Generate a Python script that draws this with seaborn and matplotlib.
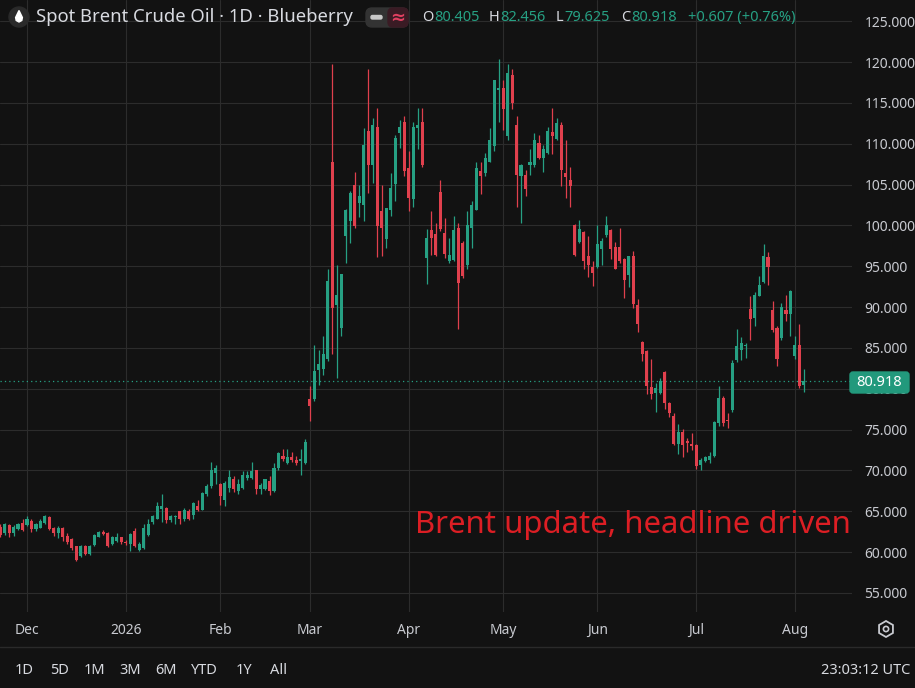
import numpy as np
import pandas as pd
import matplotlib
matplotlib.use("Agg")
import matplotlib.pyplot as plt
import seaborn as sns
from matplotlib.patches import FancyBboxPatch, Circle, RegularPolygon, Polygon

# ---------------- data ----------------
opens = [63.1, 62.4, 63.3, 62.4, 62.8, 63.6, 63.3, 63.8, 62.8, 63.0,
         63.6, 64.3, 63.0, 62.4, 62.9, 62.0, 61.6, 60.7, 59.5, 60.8,
         59.8, 60.9, 61.9, 62.5, 62.3, 61.0, 61.4, 61.8, 61.3, 61.0,
         62.6, 60.3, 60.5, 62.1, 63.7, 64.1, 65.3, 65.4, 63.9, 64.3,
         65.0, 64.0, 65.0, 64.5, 65.6,
         65.2, 67.1, 68.1, 69.7, 68.3, 66.4, 67.9, 68.9, 67.5, 67.9,
         69.1, 69.1, 70.0, 67.7, 67.7, 68.7, 67.5, 70.3, 71.8, 70.9,
         71.7, 71.3, 71.2, 70.9,
         78.7, 78.8, 82.3, 82.4, 83.6, 107.8, 90.3, 87.5, 98.7, 100.5,
         104.9, 102.7, 102.5, 111.6, 107.4, 112.1, 101.8, 98.3, 101.9, 105.1,
         111.3, 112.7,
         107.0, 103.2, 111.9, 112.7, 96.0, 99.4, 98.9, 104.1, 99.1, 95.7,
         95.8, 99.7, 97.9, 95.2, 99.7, 101.9, 106.7, 106.4, 107.8, 109.7,
         116.6,
         116.8, 110.9, 118.4, 112.3, 106.1, 106.2, 107.4, 107.4, 110.1, 108.2,
         108.9, 111.4, 110.6, 112.3, 106.4, 105.6, 100.1, 98.0, 99.2, 96.3,
         94.9,
         94.9, 97.1, 98.8, 99.4, 97.3, 97.3, 95.9, 93.9, 96.3, 90.2,
         85.7, 84.6, 80.2, 79.5, 79.5, 82.1, 78.3, 76.7, 73.3, 74.7,
         73.6, 73.2,
         73.1, 70.7, 71.1, 71.3, 71.8, 75.8, 78.9, 76.1, 77.4, 83.5,
         84.8, 85.2, 89.8, 88.7, 91.3, 93.1, 96.1, 89.6, 87.4, 86.2,
         89.6, 89.2,
         84.0, 85.4, 80.405]

highs = [63.4, 63.6, 63.5, 63.3, 63.6, 64.0, 64.4, 64.0, 63.6, 64.1,
         64.5, 64.4, 63.1, 63.2, 63.1, 62.3, 61.7, 60.8, 60.9, 60.9,
         60.9, 62.2, 62.6, 62.7, 62.5, 62.0, 62.3, 61.9, 61.5, 62.4,
         62.9, 61.2, 63.4, 64.1, 64.5, 66.1, 67.1, 65.5, 64.6, 64.6,
         65.0, 65.4, 65.3, 66.2, 66.4,
         67.4, 68.3, 71.0, 70.7, 68.5, 68.7, 70.1, 69.3, 68.9, 69.9,
         69.9, 71.0, 70.1, 68.5, 69.0, 69.3, 70.9, 72.2, 72.6, 72.6,
         72.2, 71.8, 72.6, 73.8,
         80.3, 85.4, 84.8, 86.4, 94.6, 119.7, 95.2, 94.0, 102.0, 104.2,
         106.5, 105.0, 111.9, 119.2, 113.1, 114.4, 105.0, 102.1, 106.4, 111.1,
         112.9, 113.4,
         109.1, 112.7, 114.4, 114.4, 99.5, 101.7, 100.3, 105.6, 100.9, 98.5,
         101.1, 100.3, 98.1, 101.8, 103.0, 107.8, 107.8, 108.9, 111.9, 117.8,
         120.4,
         117.8, 119.8, 119.1, 113.4, 107.5, 106.8, 109.3, 111.3, 111.1, 109.8,
         112.1, 114.4, 113.2, 112.7, 110.4, 107.2, 100.2, 100.7, 99.3, 98.7,
         95.6,
         100.1, 98.5, 101.1, 99.5, 98.0, 99.7, 96.0, 96.3, 96.9, 91.0,
         85.8, 84.7, 83.6, 80.7, 81.3, 82.2, 78.4, 77.0, 75.7, 75.1,
         74.0, 74.6,
         73.2, 71.5, 71.8, 72.3, 76.0, 80.4, 79.1, 77.0, 83.5, 87.3,
         86.3, 85.6, 91.3, 91.9, 93.8, 97.7, 96.7, 90.8, 87.7, 90.5,
         91.5, 92.1,
         86.4, 87.9, 82.456]

lows = [61.8, 62.1, 61.8, 62.0, 62.7, 62.6, 63.2, 62.5, 62.6, 62.9,
        63.5, 62.7, 62.0, 61.7, 61.4, 61.0, 60.3, 58.9, 59.4, 59.7,
        59.6, 60.8, 61.8, 62.1, 60.6, 60.9, 61.3, 61.0, 60.9, 60.1,
        60.6, 60.1, 60.4, 62.0, 63.5, 64.0, 63.7, 63.6, 63.7, 63.5,
        63.5, 63.8, 63.9, 64.1, 65.0,
        65.1, 66.9, 67.9, 68.3, 65.8, 65.6, 67.4, 67.4, 67.1, 67.7,
        68.8, 68.9, 67.1, 67.1, 67.6, 67.0, 67.4, 70.1, 71.2, 70.8,
        71.0, 70.7, 69.5, 70.8,
        76.0, 78.5, 80.5, 81.7, 83.4, 84.2, 81.3, 86.4, 95.4, 97.9,
        99.7, 101.0, 100.5, 104.0, 105.2, 96.1, 96.2, 97.2, 101.1, 103.0,
        109.5, 106.0,
        101.7, 102.2, 109.4, 107.2, 92.8, 96.4, 96.2, 99.3, 96.0, 95.4,
        95.6, 87.3, 93.6, 94.6, 97.2, 101.9, 103.8, 106.0, 107.8, 109.1,
        112.7,
        111.7, 110.5, 114.2, 102.3, 100.3, 103.6, 106.2, 107.2, 108.1, 106.5,
        108.7, 108.7, 110.5, 104.8, 103.4, 102.3, 96.2, 97.9, 94.7, 93.7,
        92.6,
        94.8, 95.2, 98.6, 95.9, 94.6, 95.4, 91.1, 92.4, 89.9, 87.0,
        83.4, 79.3, 78.7, 77.2, 79.3, 77.5, 76.6, 73.1, 72.0, 71.7,
        72.3, 72.5,
        70.2, 70.0, 71.0, 70.9, 71.7, 75.4, 75.4, 75.2, 77.1, 83.3,
        83.5, 83.8, 86.0, 87.7, 91.3, 92.9, 92.7, 86.9, 82.8, 86.0,
        88.3, 86.5,
        83.6, 80.1, 79.625]

closes = [62.1, 63.4, 62.4, 63.1, 63.5, 62.7, 64.0, 62.8, 63.4, 63.8,
          64.4, 62.8, 62.3, 63.0, 61.9, 61.3, 60.5, 59.1, 60.8, 59.8,
          60.8, 62.1, 62.5, 62.2, 60.8, 61.8, 61.9, 61.2, 61.1, 62.2,
          60.8, 61.0, 62.9, 63.4, 64.4, 65.6, 65.7, 63.9, 64.4, 64.4,
          64.0, 65.2, 64.1, 66.0, 65.1,
          67.2, 68.1, 70.1, 70.3, 66.9, 68.5, 69.2, 67.7, 68.3, 69.5,
          69.5, 69.9, 67.7, 68.2, 68.9, 67.5, 70.3, 72.1, 71.4, 71.6,
          71.3, 70.9, 71.4, 73.5,
          77.9, 82.2, 83.0, 84.2, 93.2, 89.9, 91.5, 94.0, 101.9, 104.0,
          99.9, 103.6, 109.8, 107.4, 112.3, 99.9, 99.7, 102.1, 104.6, 110.7,
          112.1, 106.6,
          103.4, 112.1, 112.3, 107.4, 98.5, 98.5, 96.4, 99.5, 96.5, 96.4,
          99.4, 92.9, 93.8, 100.0, 102.5, 107.0, 106.1, 108.3, 110.4, 117.8,
          116.8,
          114.2, 118.7, 115.0, 106.2, 107.4, 104.4, 107.8, 110.5, 108.3, 109.3,
          111.6, 111.0, 112.5, 106.8, 105.9, 104.8, 96.4, 99.5, 95.6, 95.1,
          94.2,
          97.7, 98.1, 100.0, 97.1, 94.7, 95.6, 93.3, 96.2, 90.4, 87.9,
          84.3, 80.3, 79.3, 80.1, 81.0, 78.2, 77.0, 73.3, 74.7, 73.1,
          73.4, 73.0,
          70.6, 71.3, 71.7, 71.8, 75.9, 78.9, 75.8, 76.0, 83.1, 85.2,
          85.6, 85.3, 88.6, 91.5, 92.7, 96.3, 94.9, 87.2, 83.7, 90.0,
          89.2, 92.0,
          85.4, 80.3, 80.918]

holidays = ["2025-12-25", "2026-01-01", "2026-04-03", "2026-07-03"]
price_ticks = [55, 60, 65, 70, 75, 80, 85, 90, 95, 100, 105, 110, 115, 120, 125]
last_price = 80.918
title_text = "Spot Brent Crude Oil \u00b7 1D \u00b7 Blueberry"
ohlc_labels = ["O", "H", "L", "C"]
ohlc_values = ["80.405", "82.456", "79.625", "80.918"]
change_text = "+0.607 (+0.76%)"
overlay_text = "Brent update, headline driven"
range_buttons = ["1D", "5D", "1M", "3M", "6M", "YTD", "1Y", "All"]
clock_text = "23:03:12 UTC"

dates = pd.bdate_range("2025-11-21", "2026-08-05")
dates = dates[~dates.isin(pd.to_datetime(holidays))]
df = pd.DataFrame({"date": dates, "open": opens, "high": highs,
                   "low": lows, "close": closes})
df["i"] = np.arange(len(df))
df["up"] = df["close"] >= df["open"]

# ---------------- style ----------------
BG = "#121212"
GRID = "#2c2c2c"
TXT = "#c8cad0"
UP = "#26a083"
DN = "#e0404d"
sns.set_theme(style="dark", rc={"axes.facecolor": BG, "figure.facecolor": BG})
plt.rcParams["font.family"] = ["Noto Sans", "DejaVu Sans"]

W, H = 915, 688
fig = plt.figure(figsize=(W / 100, H / 100), dpi=100)
fig.patch.set_facecolor(BG)
plot_right, plot_bottom = 852, 612
ax = fig.add_axes([0, 1 - plot_bottom / H, plot_right / W, plot_bottom / H])
ax.set_facecolor(BG)

colors = np.where(df["up"], UP, DN)
ax.vlines(df["i"], df["low"], df["high"], colors=colors, linewidth=0.9, zorder=3)
body_bottom = np.minimum(df["open"], df["close"])
body_h = np.maximum(np.abs(df["close"] - df["open"]), 0.12)
ax.bar(df["i"], body_h, bottom=body_bottom, width=0.68, color=colors,
       linewidth=0, zorder=4)

px_per_bar = 4.491
x0 = 6 - 27 / px_per_bar
ax.set_xlim(x0, x0 + plot_right / px_per_bar)
px_per_unit = (593 - 62) / 65
ax.set_ylim(120 - (plot_bottom - 62) / px_per_unit, 120 + 62 / px_per_unit)

per = df["date"].dt.to_period("M")
firsts = df.groupby(per)["i"].first()
firsts = firsts[firsts > 0]
tick_pos = list(firsts.values)
tick_lab = [str(p.year) if p.month == 1 else p.strftime("%b") for p in firsts.index]
ax.set_xticks(tick_pos)
ax.set_xticklabels(tick_lab)
for t in ax.get_xticklabels():
    if t.get_text().isdigit():
        t.set_fontweight("bold")
ax.tick_params(axis="x", length=0, pad=8, labelsize=10, labelcolor=TXT)

ax.set_yticks(price_ticks)
ax.set_yticklabels([f"{v:.3f}" for v in price_ticks])
ax.yaxis.tick_right()
ax.tick_params(axis="y", length=0, pad=9, labelsize=10, labelcolor=TXT)

ax.grid(True, color=GRID, linewidth=0.8, zorder=0)
ax.set_axisbelow(True)
sns.despine(ax=ax, left=True, bottom=True, right=True, top=True)

ax.axhline(last_price, color=UP, linestyle=(0, (1, 2.5)), linewidth=0.9, zorder=2)

# ---------------- overlay (pixel coords) ----------------
ov = fig.add_axes([0, 0, 1, 1], zorder=10)
ov.set_xlim(0, W)
ov.set_ylim(H, 0)
ov.axis("off")
ov.patch.set_alpha(0)
renderer = fig.canvas.get_renderer()


def px_width(t):
    bb = t.get_window_extent(renderer=renderer)
    return bb.width


ov.add_patch(Circle((19, 17), 10, color="#2a2a2a", zorder=1))
drop = Polygon([(19, 10.5), (15.6, 17.5), (16.2, 20.5), (19, 22), (21.8, 20.5), (22.4, 17.5)],
               closed=True, color="white", zorder=2)
ov.add_patch(drop)
ov.text(36, 17.5, title_text, color="#d8dae0", fontsize=13.3, va="center", ha="left")

ov.add_patch(FancyBboxPatch((366, 8), 42, 19, boxstyle="round,pad=0,rounding_size=6",
                            color="#333333", zorder=1))
ov.add_patch(FancyBboxPatch((388, 8), 20, 19, boxstyle="round,pad=0,rounding_size=5",
                            color="#3a1b24", zorder=2))
ov.add_patch(FancyBboxPatch((371, 15.5), 11, 3.5, boxstyle="round,pad=0,rounding_size=1.5",
                            color="#c8c8c8", zorder=3))
ov.text(398, 17.5, "\u2248", color="#e04060", fontsize=13, ha="center", va="center",
        fontweight="bold", zorder=4)

ohlc_x = [422, 489, 556, 621]
for lab, val, xx in zip(ohlc_labels, ohlc_values, ohlc_x):
    t = ov.text(xx, 17.5, lab, color="#d8dae0", fontsize=10.5, va="center", ha="left")
    w = px_width(t)
    ov.text(xx + w + 0.5, 17.5, val, color=UP, fontsize=10.5, va="center", ha="left")
ov.text(688, 17.5, change_text, color=UP, fontsize=10.5, va="center", ha="left")

ov.add_patch(FancyBboxPatch((850, 372), 59, 21, boxstyle="round,pad=0,rounding_size=3",
                            color="#22997c", zorder=5))
ov.text(879.5, 382.5, f"{last_price:.3f}", color="white", fontsize=10.5, ha="center",
        va="center", zorder=6)

ov.text(851, 533, overlay_text, color="#dc1e24", fontsize=22.4, ha="right",
        va="baseline")

ov.add_patch(RegularPolygon((886, 629), numVertices=6, radius=8, orientation=0,
                            fill=False, edgecolor="#c8cad0", linewidth=1.3))
ov.add_patch(Circle((886, 629), 2.6, fill=False, edgecolor="#c8cad0", linewidth=1.2))

ov.plot([0, W], [646.5, 646.5], color="#2a2a2a", linewidth=1)
bx = [15, 50, 84, 119, 155, 191, 236, 270]
for lab, xx in zip(range_buttons, bx):
    ov.text(xx, 671, lab, color="#d8dae0", fontsize=10.5, va="center", ha="left")
ov.text(910, 671, clock_text, color="#d8dae0", fontsize=10.5, va="center", ha="right")

fig.savefig("out.png", dpi=100, facecolor=BG)
